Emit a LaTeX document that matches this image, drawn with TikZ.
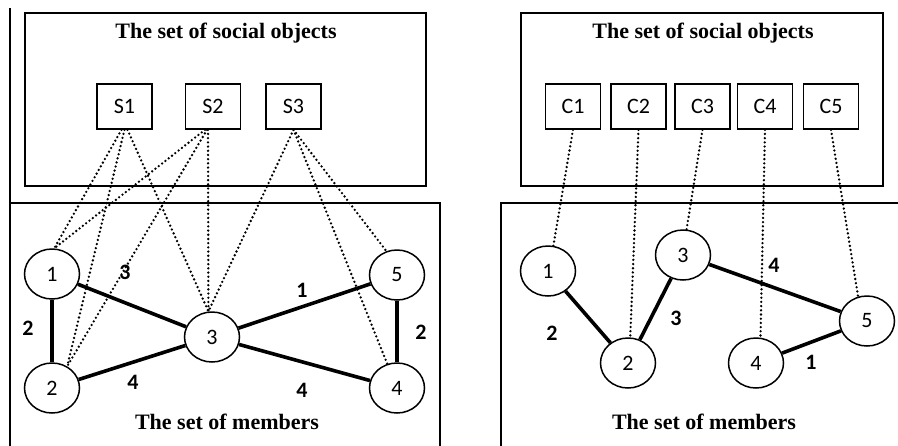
\documentclass[tikz,border=0pt]{standalone}
\usepackage{fontspec}
\setmainfont{Liberation Serif}
\newfontfamily\numfont{Carlito}
\usetikzlibrary{shapes.geometric}

\begin{document}
\begin{tikzpicture}[x=1pt,y=-1pt,
  frame/.style={draw, line width=1.6pt},
  obj/.style={draw, line width=1.5pt, minimum width=55pt, minimum height=45pt,
    inner sep=0pt, font=\numfont\fontsize{22}{22}\selectfont},
  member/.style={draw, ellipse, line width=1.5pt, minimum width=55pt,
    minimum height=50pt, inner sep=0pt, font=\numfont\fontsize{22}{22}\selectfont},
  tie/.style={line width=3.6pt},
  link/.style={line width=2.6pt, line cap=round, dash pattern=on 0pt off 4.2pt},
  weight/.style={font=\numfont\bfseries\fontsize{22}{22}\selectfont},
  heading/.style={font=\bfseries\fontsize{22}{22}\selectfont}]

\useasboundingbox (0,0) rectangle (898,445);
\fill[white] (0,0) rectangle (898,445);
\clip (0,0) rectangle (898,445);

% ---------------- left panel ----------------
\draw[line width=1.4pt] (10,8) -- (10,203);
\draw[frame] (25,13) rectangle (426,186);
\draw[frame] (10,203) rectangle (440,460);
\node[heading] (lt) at (226,33) {The set of social objects};
\node[heading] (lb) at (227,422) {The set of members};

\node[obj] (s1) at (124.5,106.5) {S1};
\node[obj] (s2) at (213,106.5) {S2};
\node[obj] (s3) at (293.5,106.5) {S3};

\node[member] (a1) at (52,274) {1};
\node[member] (a2) at (52,388) {2};
\node[member] (a3) at (212,337) {3};
\node[member] (a5) at (397,275) {5};
\node[member] (a4) at (397,388) {4};

\draw[link] ([xshift=-3pt]s1.south) -- (a1.85);
\draw[link] (s1.south) -- (a2.55);
\draw[link] ([xshift=3pt]s1.south) -- (a3.98);
\draw[link] ([xshift=-8pt]s2.south) -- (a1.85);
\draw[link] ([xshift=-6pt]s2.south) -- (a2.55);
\draw[link] ([xshift=-5pt]s2.south) -- (a3.98);
\draw[link] (s3.south) -- (a3.98);
\draw[link] (s3.south) -- (a4.112);
\draw[link] (s3.south) -- (a5.114);

\draw[tie] (a1) -- (a2);
\draw[tie] (a1) -- (a3);
\draw[tie] (a2) -- (a3);
\draw[tie] (a3) -- (a5);
\draw[tie] (a3) -- (a4);
\draw[tie] (a5) -- (a4);

\node[weight] (w13) at (125,272) {3};
\node[weight] (w12) at (28,328) {2};
\node[weight] (w23) at (133,382) {4};
\node[weight] (w35) at (302,290) {1};
\node[weight] (w54) at (421,332) {2};
\node[weight] (w34) at (302,390) {4};

% ---------------- right panel ----------------
\draw[frame] (521,13) rectangle (883,186);
\draw[frame] (501,203) rectangle (910,460);
\node[heading] (rt) at (703,33) {The set of social objects};
\node[heading] (rb) at (704,422) {The set of members};

\node[obj] (c1) at (573,106.5) {C1};
\node[obj] (c2) at (638.5,106.5) {C2};
\node[obj] (c3) at (702.5,106.5) {C3};
\node[obj] (c4) at (765,106.5) {C4};
\node[obj] (c5) at (831,106.5) {C5};

\node[member] (b1) at (548,271) {1};
\node[member] (b2) at (628,363) {2};
\node[member] (b3) at (683,255) {3};
\node[member] (b4) at (756,363) {4};
\node[member] (b5) at (867,321) {5};

\draw[link] (c1.south) -- (b1.78);
\draw[link] (c2.south) -- (b2.85);
\draw[link] (c3.south) -- (b3.82);
\draw[link] (c4.south) -- (b4.80);
\draw[link] (c5.south) -- (b5.110);

\draw[tie] (b1) -- (b2);
\draw[tie] (b2) -- (b3);
\draw[tie] (b3) -- (b5);
\draw[tie] (b5) -- (b4);

\node[weight] (v12) at (552,333) {2};
\node[weight] (v23) at (676,318) {3};
\node[weight] (v35) at (774,265) {4};
\node[weight] (v54) at (811,362) {1};
\end{tikzpicture}
\end{document}
